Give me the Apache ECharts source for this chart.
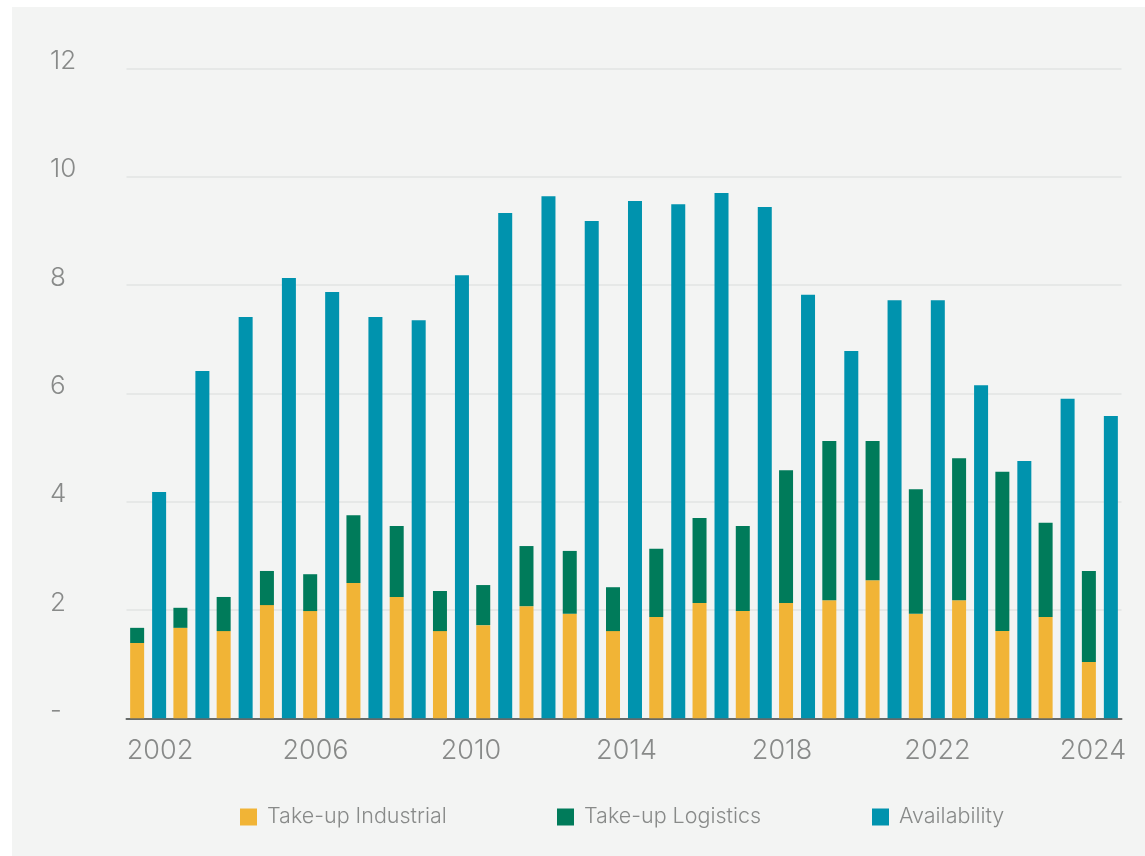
<!DOCTYPE html>
<html>
<head>
<meta charset="utf-8">
<script src="https://cdn.jsdelivr.net/npm/echarts@6/dist/echarts.min.js"></script>
<style>
  html, body { margin: 0; padding: 0; background: #ffffff; }
  #panel { position: absolute; left: 12px; top: 7px; right: 0; bottom: 0; background: #f3f4f3; }
  #chart { position: absolute; left: 0; top: 0; width: 1145px; height: 856px; }
</style>
</head>
<body>
<div id="panel"></div>
<div id="chart"></div>
<script>
// Years on the category axis
const years = ['2002','2003','2004','2005','2006','2007','2008','2009','2010','2011','2012',
               '2013','2014','2015','2016','2017','2018','2019','2020','2021','2022','2023','2024'];

// Take-up split into industrial and logistics (stacked), plus availability
const takeUpIndustrial = [1.39,1.67,1.61,2.09,1.98,2.50,2.24,1.61,1.72,2.07,1.93,
                          1.61,1.87,2.13,1.98,2.13,2.18,2.55,1.93,2.18,1.61,1.87,1.04];
const takeUpLogistics  = [0.28,0.37,0.63,0.63,0.68,1.25,1.31,0.74,0.74,1.11,1.16,
                          0.81,1.26,1.57,1.57,2.45,2.94,2.57,2.30,2.62,2.94,1.74,1.68];
const availability     = [4.18,6.41,7.41,8.13,7.87,7.41,7.35,8.18,9.33,9.64,9.18,
                          9.55,9.49,9.70,9.44,7.82,6.78,7.72,7.72,6.15,4.75,5.90,5.58];

// Axis tick labels
const yTickLabels = ['-','2','4','6','8','10','12'];
const xTickLabels = ['2002','2006','2010','2014','2018','2022','2024'];

const textGray = '#888a89';
const fontFamily = 'Inter, Lato, sans-serif';

const chart = echarts.init(document.getElementById('chart'), null, { renderer: 'canvas' });

const legendBase = {
  top: 806,
  padding: 0,
  itemWidth: 17,
  itemHeight: 17,
  icon: 'rect',
  selectedMode: false,
  textStyle: { color: textGray, fontSize: 21.5, fontWeight: 300, fontFamily: fontFamily, padding: [0, 0, 0, 5] }
};

chart.setOption({
  backgroundColor: 'transparent',
  animation: false,
  legend: [
    Object.assign({}, legendBase, { left: 240, data: ['Take-up Industrial'] }),
    Object.assign({}, legendBase, { left: 557, data: ['Take-up Logistics'] }),
    Object.assign({}, legendBase, { left: 872, data: ['Availability'] })
  ],
  grid: [
    { left: 126.5, right: 23.5, top: 68.3, bottom: 137.7 },
    { left: 160, right: 52, top: 68.3, bottom: 137.7 }
  ],
  xAxis: [
    {
      type: 'category',
      gridIndex: 0,
      data: years,
      axisLine: { lineStyle: { color: '#666a69', width: 2 } },
      axisTick: { show: false },
      axisLabel: { show: false }
    },
    {
      type: 'value',
      gridIndex: 1,
      min: 0,
      max: xTickLabels.length - 1,
      interval: 1,
      axisLine: { show: false },
      axisTick: { show: false },
      splitLine: { show: false },
      axisLabel: {
        margin: 19,
        color: textGray,
        fontSize: 27,
        fontWeight: 300,
        fontFamily: fontFamily,
        formatter: v => xTickLabels[Math.round(v)]
      }
    }
  ],
  yAxis: [
    {
      type: 'value',
      gridIndex: 0,
      min: 0,
      max: 12,
      interval: 2,
      axisLine: { show: false },
      axisTick: { show: false },
      splitLine: { lineStyle: { color: '#e6e8e7', width: 2 } },
      axisLabel: {
        align: 'left',
        margin: 76.5,
        color: textGray,
        fontSize: 26,
        fontWeight: 300,
        fontFamily: fontFamily,
        verticalAlign: 'bottom',
        lineHeight: 14,
        formatter: v => yTickLabels[Math.round(v / 2)]
      }
    },
    {
      type: 'value',
      gridIndex: 1,
      show: false,
      min: 0,
      max: 12
    }
  ],
  series: [
    {
      name: 'Take-up Industrial',
      type: 'bar',
      stack: 'takeup',
      xAxisIndex: 0,
      yAxisIndex: 0,
      barWidth: 14,
      barGap: '57%',
      itemStyle: { color: '#f1b436' },
      data: takeUpIndustrial
    },
    {
      name: 'Take-up Logistics',
      type: 'bar',
      stack: 'takeup',
      xAxisIndex: 0,
      yAxisIndex: 0,
      barWidth: 14,
      barGap: '57%',
      itemStyle: { color: '#007b5a' },
      data: takeUpLogistics
    },
    {
      name: 'Availability',
      type: 'bar',
      xAxisIndex: 0,
      yAxisIndex: 0,
      barWidth: 14,
      barGap: '57%',
      itemStyle: { color: '#0093ae' },
      data: availability
    }
  ]
});
</script>
</body>
</html>
